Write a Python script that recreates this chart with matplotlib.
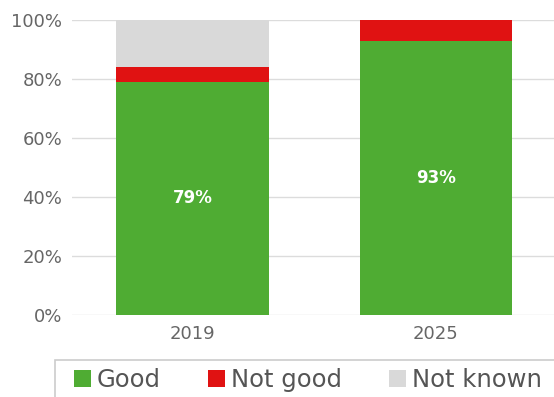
import matplotlib
matplotlib.use("Agg")
import matplotlib.pyplot as plt
from matplotlib.patches import Rectangle
import numpy as np

plt.rcParams['font.family'] = ['DejaVu Sans']

years = ["2019", "2025"]
good = [79, 93]
not_good = [5, 7]
not_known = [16, 0]
series_names = ["Good", "Not good", "Not known"]
colors = ["#4fac33", "#e01212", "#d9d9d9"]
yticks = [0, 20, 40, 60, 80, 100]

W, H = 554, 397
fig = plt.figure(figsize=(W / 100, H / 100), dpi=100)
ax = fig.add_axes([72 / W, 1 - 315 / H, 1 - 72 / W, (315 - 20) / H])

x = np.arange(len(years))
width = 0.625
b1 = ax.bar(x, good, width, color=colors[0], zorder=3)
b2 = ax.bar(x, not_good, width, bottom=good, color=colors[1], zorder=3)
bottoms = np.array(good) + np.array(not_good)
b3 = ax.bar(x, not_known, width, bottom=bottoms, color=colors[2], zorder=3)

for xi, v in zip(x, good):
    ax.text(xi, v / 2, f"{v}%", ha="center", va="center", color="white",
            fontsize=12, fontweight="bold", zorder=4)

ax.set_xlim(-0.495, 1.485)
ax.set_ylim(0, 100)
ax.set_yticks(yticks)
ax.set_yticklabels([f"{t}%" for t in yticks])
ax.set_xticks(x)
ax.set_xticklabels(years)
ax.tick_params(axis="both", length=0, labelsize=13, colors="#666666")
ax.tick_params(axis="y", pad=7)
ax.tick_params(axis="x", pad=7)
ax.grid(axis="y", color="#dcdcdc", linewidth=1, zorder=0)
for s in ax.spines.values():
    s.set_visible(False)

# legend frame running off the canvas edge
fig.patches.append(Rectangle((55 / W, -0.05), 1.0, (1 - 360 / H) + 0.05,
                             transform=fig.transFigure, facecolor="white",
                             edgecolor="#cccccc", linewidth=1.2))
leg = fig.legend([b1, b2, b3], series_names, loc="center left",
                 bbox_to_anchor=(74 / W, 1 - 380 / H), ncol=3, frameon=False,
                 fontsize=17.5, handlelength=0.68, handleheight=0.68,
                 handletextpad=0.25, columnspacing=1.95, borderaxespad=0,
                 borderpad=0)
for t in leg.get_texts():
    t.set_color("#555555")

fig.savefig("out.png", dpi=100)
